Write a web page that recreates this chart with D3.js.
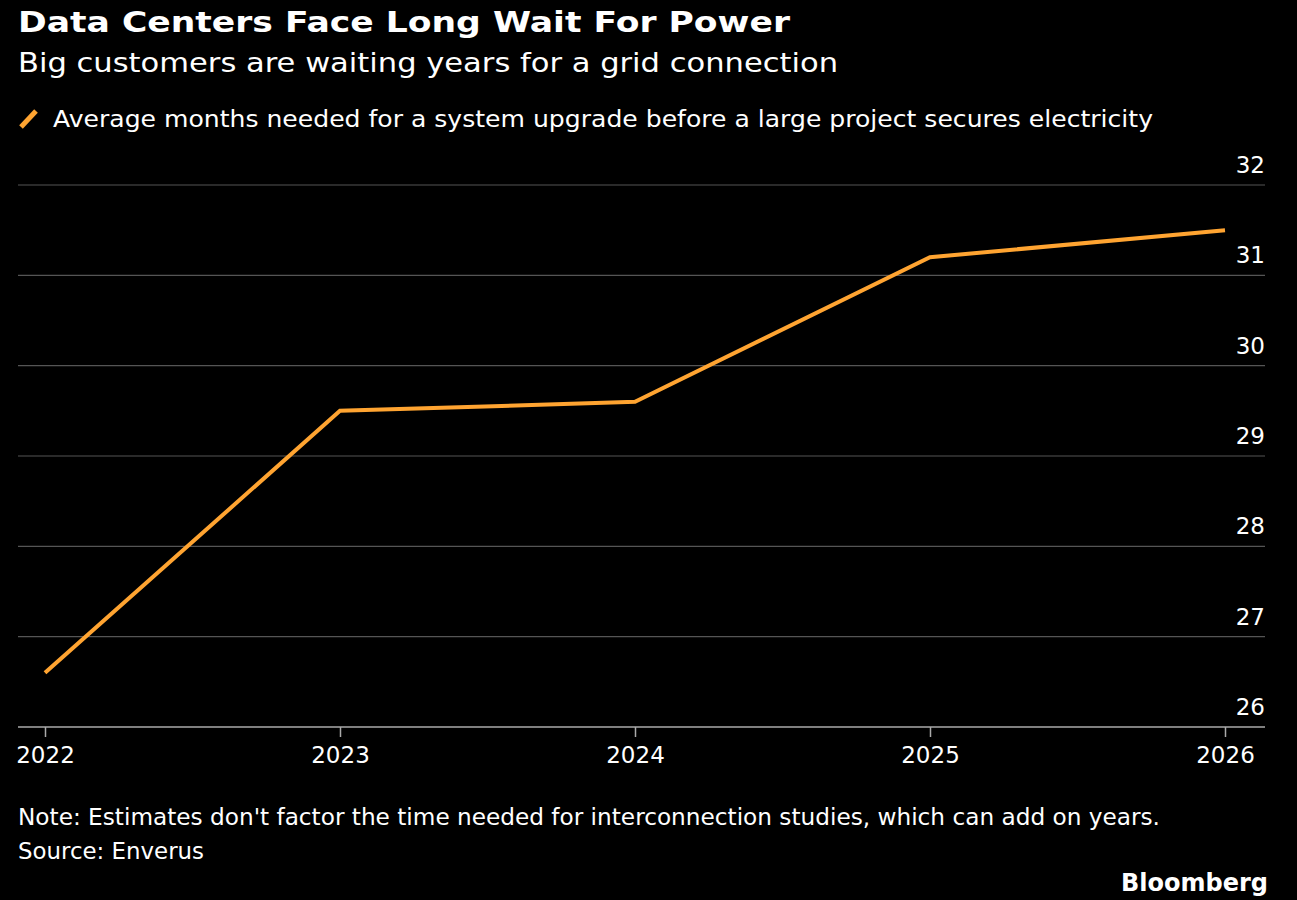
<!DOCTYPE html>
<html><head><meta charset="utf-8">
<script src="https://cdn.jsdelivr.net/npm/d3@7"></script>
<style>body{margin:0;background:#000;}svg{display:block;font-family:"DejaVu Sans",sans-serif;}</style>
</head><body>
<script>
const years = [2022, 2023, 2024, 2025, 2026];
const months = [26.6, 29.5, 29.6, 31.2, 31.5];
const yTicks = [26, 27, 28, 29, 30, 31, 32];
const xTicks = [2022, 2023, 2024, 2025, 2026];

const W = 1297, H = 900;
const svg = d3.select("body").append("svg").attr("width", W).attr("height", H);
svg.append("rect").attr("width", W).attr("height", H).attr("fill", "#000");

const x = d3.scaleLinear().domain([2022, 2026]).range([45, 1225]);
const y = d3.scaleLinear().domain([26, 32]).range([727, 185]);

function txt(xp, yp, s, size, len, bold) {
  const t = svg.append("text").attr("x", xp).attr("y", yp).attr("fill", "#fff")
    .attr("font-size", size).text(s);
  if (bold) t.attr("font-weight", "bold");
  if (len) t.attr("textLength", len).attr("lengthAdjust", "spacingAndGlyphs");
  return t;
}
txt(18, 32, "Data Centers Face Long Wait For Power", 29, 772, true);
txt(18, 72, "Big customers are waiting years for a grid connection", 27, 820);

svg.append("line").attr("x1", 21).attr("y1", 127).attr("x2", 36).attr("y2", 111)
  .attr("stroke", "#ffa431").attr("stroke-width", 5);
txt(53, 127, "Average months needed for a system upgrade before a large project secures electricity", 23, 1100);

svg.append("g").selectAll("line").data(yTicks).join("line")
  .attr("x1", 18).attr("x2", 1265).attr("y1", d => y(d)).attr("y2", d => y(d))
  .attr("stroke", d => d === 26 ? "#aaa" : "#555").attr("stroke-width", d => d === 26 ? 1.5 : 1.2);
svg.append("g").selectAll("text").data(yTicks).join("text")
  .attr("x", 1265).attr("y", d => y(d) - 12).attr("text-anchor", "end")
  .attr("fill", "#fff").attr("font-size", 23).text(d => d);

const xa = svg.append("g").attr("transform", `translate(0,${y(26)})`)
  .call(d3.axisBottom(x).tickValues(xTicks).tickFormat(d3.format("d")).tickSize(10));
xa.select(".domain").remove();
xa.selectAll("line").attr("stroke", "#aaa").attr("stroke-width", 1.5);
xa.selectAll("text").attr("fill", "#fff").attr("font-size", 23).attr("dy", "1em")
  .attr("font-family", "'DejaVu Sans',sans-serif");

svg.append("path").datum(years.map((d, i) => [d, months[i]]))
  .attr("d", d3.line().x(d => x(d[0])).y(d => y(d[1])))
  .attr("fill", "none").attr("stroke", "#ffa431").attr("stroke-width", 4);

txt(18, 825, "Note: Estimates don't factor the time needed for interconnection studies, which can add on years.", 23, 1142);
txt(18, 859, "Source: Enverus", 23, 186);
svg.append("text").attr("x", 1268).attr("y", 891).attr("text-anchor", "end").attr("fill", "#fff")
  .attr("font-size", 24).attr("font-weight", "bold").text("Bloomberg");
</script>
</body></html>
